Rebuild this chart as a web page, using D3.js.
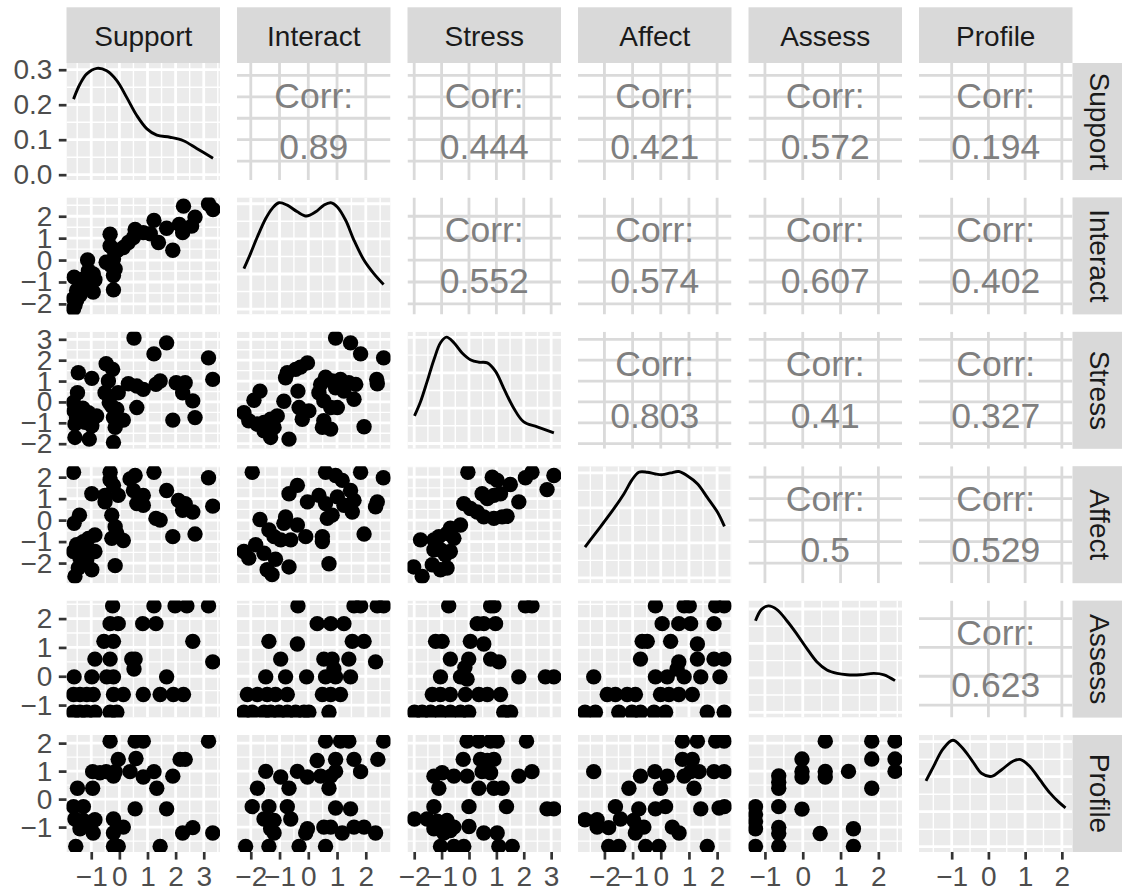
<!DOCTYPE html>
<html>
<head>
<meta charset="utf-8">
<script src="https://cdn.jsdelivr.net/npm/d3@7"></script>
<style>
  body { margin: 0; background: #fff; }
  svg { display: block; }
</style>
</head>
<body>
<svg id="chart" width="1122" height="894"></svg>
<script>
// ---- variables, ranges and tick values ----
const vars = ["Support", "Interact", "Stress", "Affect", "Assess", "Profile"];
const varMin = [-1.632, -2.237, -1.99, -2.69, -1.25, -1.70];
const varMax = [3.33, 2.617, 3.105, 2.263, 2.44, 2.10];
const varTicks = [
  [-1, 0, 1, 2, 3],
  [-2, -1, 0, 1, 2],
  [-2, -1, 0, 1, 2, 3],
  [-2, -1, 0, 1, 2],
  [-1, 0, 1, 2],
  [-1, 0, 1, 2]
];
const densityTicks = [0, 0.1, 0.2, 0.3];

// ---- correlations (upper triangle, by row) ----
const corrSupport = [0.89, 0.444, 0.421, 0.572, 0.194];
const corrInteract = [0.552, 0.574, 0.607, 0.402];
const corrStress = [0.803, 0.41, 0.327];
const corrAffect = [0.5, 0.529];
const corrAssess = [0.623];

// ---- kernel density curves (x, density) ----
const densSupport = [[-1.63,0.216],[-1.40,0.259],[-1.16,0.288],[-0.80,0.304],[-0.45,0.297],[-0.09,0.269],[0.26,0.221],[0.62,0.169],[0.98,0.131],[1.33,0.113],[1.80,0.107],[2.28,0.097],[2.75,0.075],[3.33,0.047]];
const densInteract = [[-2.24,0.115],[-2.01,0.158],[-1.77,0.206],[-1.48,0.258],[-1.25,0.287],[-1.02,0.303],[-0.73,0.296],[-0.38,0.277],[-0.06,0.265],[0.26,0.277],[0.54,0.296],[0.78,0.303],[1.01,0.291],[1.30,0.253],[1.59,0.196],[1.94,0.139],[2.28,0.101],[2.62,0.070]];
const densStress = [[-1.99,0.078],[-1.77,0.118],[-1.53,0.175],[-1.28,0.237],[-1.04,0.285],[-0.82,0.301],[-0.55,0.285],[-0.25,0.256],[0.05,0.237],[0.36,0.230],[0.67,0.228],[0.97,0.204],[1.27,0.156],[1.64,0.099],[2.00,0.061],[2.49,0.047],[3.10,0.030]];
const densAffect = [[-2.69,0.088],[-2.38,0.121],[-2.02,0.159],[-1.67,0.197],[-1.31,0.240],[-1.02,0.280],[-0.78,0.302],[-0.48,0.302],[-0.19,0.297],[0.05,0.295],[0.35,0.300],[0.64,0.304],[0.94,0.292],[1.30,0.269],[1.65,0.230],[2.01,0.188],[2.26,0.147]];
const densAssess = [[-1.25,0.266],[-1.09,0.299],[-0.91,0.309],[-0.69,0.299],[-0.42,0.266],[-0.16,0.228],[0.11,0.185],[0.37,0.147],[0.64,0.123],[0.91,0.113],[1.17,0.109],[1.53,0.109],[1.88,0.113],[2.15,0.109],[2.44,0.092]];
const densProfile = [[-1.70,0.188],[-1.50,0.228],[-1.23,0.280],[-0.97,0.304],[-0.73,0.285],[-0.45,0.247],[-0.18,0.209],[0.09,0.201],[0.36,0.220],[0.68,0.245],[0.88,0.249],[1.14,0.228],[1.41,0.190],[1.68,0.153],[1.91,0.128],[2.10,0.111]];

// ---- scatter points: [x, y] ----
const ptsSupport_Interact = [[3.17,2.56],[3.33,2.31],[2.28,2.46],[2.69,1.96],[2.57,1.55],[2.25,1.25],[2.13,1.63],[1.68,1.45],[1.23,1.81],[1.90,0.45],[1.39,0.80],[1.10,1.20],[0.85,1.25],[0.56,1.40],[0.50,1.03],[0.32,0.80],[0.14,0.57],[-0.09,0.42],[-0.33,1.18],[-0.33,0.65],[-0.21,0.48],[-0.21,0.05],[-0.47,-0.10],[-0.30,-0.25],[-0.15,-0.41],[-0.21,-0.71],[-0.21,-1.36],[-1.13,0],[-0.93,-0.63],[-1.10,-0.48],[-0.87,-0.90],[-1.28,-0.86],[-1.61,-0.78],[-1.40,-1.09],[-1.52,-1.39],[-0.93,-1.46],[-1.22,-1.31],[-1.16,-1.00],[-1.63,-1.76],[-1.58,-2.07],[-1.63,-2.22],[-1.52,-1.84],[-1.40,-1.60]];
const ptsSupport_Stress = [[0.52,3.06],[1.68,2.83],[1.23,2.30],[3.17,2.11],[-0.47,1.83],[-0.24,1.56],[-1.46,1.40],[-0.98,1.13],[-0.39,1.00],[1.45,1.00],[3.32,1.08],[1.30,0.84],[0.32,0.87],[0.62,0.76],[0.85,0.60],[2.02,0.92],[2.34,0.92],[2.25,0.44],[2.61,0.05],[-0.51,0.44],[-0.04,0.44],[-1.49,0.44],[-1.63,-0.03],[-0.36,-0.03],[0.62,-0.27],[-0.09,-0.35],[-1.61,-0.43],[-1.10,-0.51],[-0.81,-0.67],[-1.52,-0.75],[-0.21,-0.75],[0.14,-0.87],[-1.22,-0.98],[-0.15,-1.22],[2.69,-0.75],[1.90,-0.87],[-1.58,-1.70],[-1.07,-1.78],[-0.21,-1.94],[-1.58,-1.06],[-0.98,-1.14],[-0.27,-0.20],[-1.30,-0.30]];
const ptsSupport_Affect = [[-1.63,2.23],[-0.33,2.23],[-0.33,1.88],[-0.21,1.62],[0.38,1.92],[0.56,2.08],[1.23,2.23],[3.17,1.97],[1.68,1.38],[-0.98,1.23],[-0.51,1.15],[-0.04,1.15],[-0.51,0.85],[0.50,1.38],[0.85,1.15],[0.62,0.77],[0.85,0.69],[2.10,0.92],[2.34,0.77],[2.25,0.46],[2.61,0.38],[3.32,0.65],[1.30,0.08],[1.45,0.00],[-1.42,0.23],[-1.61,-0.15],[-0.27,0.23],[-0.15,-0.31],[-0.09,-0.62],[-0.27,-0.85],[0.14,-0.95],[1.90,-0.77],[2.69,-0.65],[-0.87,-0.69],[-1.10,-0.85],[-1.28,-1.00],[-1.52,-1.15],[-1.16,-1.38],[-1.63,-1.46],[-0.87,-1.46],[-1.40,-1.77],[-1.16,-1.85],[-0.98,-2.31],[-1.46,-2.23],[-1.58,-2.62],[-0.15,-2.12]];
const ptsSupport_Assess = [[-0.24,2.44],[1.23,2.44],[1.98,2.44],[2.40,2.44],[3.17,2.44],[-0.33,1.825],[-0.04,1.825],[0.83,1.825],[1.30,1.825],[-0.55,1.21],[-0.21,1.21],[2.61,1.21],[-0.87,0.595],[-0.33,0.595],[0.44,0.595],[0.56,0.595],[3.32,0.50],[-1.61,-0.02],[-0.98,-0.02],[-0.45,-0.02],[-0.21,-0.02],[0.52,0.25],[1.68,-0.02],[-1.63,-0.635],[-1.40,-0.635],[-1.16,-0.635],[-0.93,-0.635],[-0.21,-0.635],[0.14,-0.635],[0.85,-0.635],[1.45,-0.635],[1.92,-0.635],[2.28,-0.635],[-1.63,-1.25],[-1.40,-1.25],[-1.16,-1.25],[-0.87,-1.25],[-0.33,-1.25],[-0.09,-1.25]];
const ptsSupport_Profile = [[-0.33,2.07],[0.56,2.07],[0.85,2.07],[3.17,2.07],[-0.04,1.42],[0.59,1.45],[2.16,1.42],[2.34,1.42],[-0.95,0.98],[-0.69,0.94],[-0.47,0.98],[-0.21,0.82],[-0.15,0.98],[0.38,0.98],[0.85,0.79],[1.23,0.98],[1.90,0.82],[-1.49,0.39],[-0.95,0.39],[1.33,0.39],[-1.63,-0.27],[-1.28,-0.27],[0.56,-0.35],[1.68,-0.35],[-1.58,-0.71],[-1.28,-0.76],[-0.87,-0.74],[-0.21,-0.71],[-1.40,-1.06],[-1.10,-0.94],[-0.93,-1.21],[0.14,-1.00],[-0.21,-1.21],[2.25,-1.21],[2.61,-1.02],[3.32,-1.21],[-1.55,-1.69],[-0.21,-1.69],[-0.04,-1.69],[1.45,-1.69]];
const ptsInteract_Stress = [[0.95,3.06],[1.47,2.83],[1.82,2.30],[2.62,2.11],[-0.03,1.87],[-0.27,1.67],[-0.44,1.56],[-0.73,1.40],[-0.79,1.16],[2.38,1.08],[2.40,0.87],[0.60,1.19],[0.83,1.00],[1.12,1.08],[1.41,0.92],[1.65,0.84],[0.43,0.84],[0.95,0.68],[1.24,0.52],[1.59,0.13],[-1.68,0.52],[-1.89,0.08],[-0.36,0.52],[0.37,0.44],[0.54,0.05],[-0.85,0.03],[-2.24,-0.51],[-2.07,-0.90],[-1.78,-1.06],[-1.54,-0.98],[-1.31,-0.83],[-1.08,-0.67],[-0.32,-0.27],[0.02,-0.43],[-0.21,-0.83],[0.78,-0.27],[1.01,-0.27],[0.54,-0.90],[0.49,-1.22],[0.78,-1.30],[1.94,-1.19],[-1.54,-1.38],[-1.31,-1.70],[-0.67,-1.78],[-1.19,-1.22]];
const ptsInteract_Affect = [[-1.95,2.23],[0.60,2.23],[0.95,2.08],[1.18,1.85],[1.82,2.23],[2.61,1.97],[-0.38,1.62],[-0.67,1.23],[-0.03,0.85],[0.37,1.15],[0.60,0.77],[1.01,1.08],[1.24,0.69],[1.47,1.38],[1.59,0.92],[1.53,0.38],[0.66,0.08],[0.83,0.23],[2.40,0.85],[2.34,0.62],[-1.68,0.03],[-0.79,0.15],[-0.85,-0.15],[-0.38,-0.23],[-1.37,-0.46],[-1.19,-0.77],[-0.96,-0.92],[-0.61,-0.92],[-0.09,-0.77],[0.49,-0.77],[0.49,-1.00],[1.94,-0.65],[-1.83,-1.15],[-1.54,-1.54],[-2.24,-1.46],[-2.07,-1.77],[-1.14,-1.82],[-1.43,-2.31],[-1.26,-2.54],[-0.67,-2.18],[0.72,-2.03]];
const ptsStress_Affect = [[-0.04,2.23],[0.85,2.00],[1.03,1.85],[1.51,1.66],[2.06,1.97],[2.30,2.23],[3.10,2.08],[2.85,1.42],[1.82,0.85],[0.48,1.23],[0.67,1.00],[0.91,1.15],[1.15,1.23],[-0.19,0.77],[0.05,0.54],[0.30,0.38],[0.54,0.15],[0.91,0.08],[1.21,0.15],[1.39,0.18],[-0.31,-0.23],[-0.68,-0.38],[-0.80,-0.62],[-1.10,-0.77],[-1.77,-0.92],[-1.28,-0.92],[-0.55,-0.85],[-1.28,-1.38],[-1.04,-1.38],[-0.68,-1.46],[-0.86,-1.62],[-1.34,-2.08],[-1.04,-2.31],[-0.80,-2.23],[-2.02,-2.18],[-1.71,-2.62]];
const ptsInteract_Assess = [[-0.36,2.44],[1.59,2.44],[1.82,2.44],[2.40,2.44],[2.62,2.44],[0.31,1.825],[0.78,1.825],[1.24,1.825],[-1.37,1.21],[-0.38,1.12],[1.53,1.21],[1.94,1.21],[-0.96,0.595],[0.54,0.595],[0.83,0.595],[1.41,0.595],[2.34,0.50],[0.89,0.25],[-1.48,-0.02],[-0.79,-0.02],[-0.06,-0.02],[0.60,-0.02],[0.95,-0.02],[1.47,-0.02],[-2.12,-0.635],[-1.77,-0.635],[-1.43,-0.635],[-1.14,-0.635],[-0.73,-0.635],[0.49,-0.635],[0.78,-0.635],[1.12,-0.635],[-2.24,-1.25],[-1.95,-1.25],[-1.54,-1.25],[-1.31,-1.25],[-1.02,-1.25],[-0.73,-1.25],[-0.44,-1.25],[-0.15,-1.25],[0.02,-1.25],[0.72,-1.25]];
const ptsStress_Assess = [[-0.74,2.44],[0.79,2.44],[0.91,2.44],[2.06,2.44],[2.30,2.44],[0.30,1.825],[0.54,1.825],[0.97,1.825],[-1.22,1.21],[-0.98,1.21],[0.05,1.21],[0.54,1.12],[-0.68,0.595],[-0.01,0.595],[0.79,0.595],[1.09,0.50],[-0.15,0.30],[-1.04,-0.02],[-0.31,-0.02],[-0.07,-0.10],[1.82,-0.02],[2.79,-0.02],[3.10,-0.02],[-1.34,-0.635],[-1.04,-0.635],[-0.68,-0.635],[-0.13,-0.635],[0.36,-0.635],[0.67,-0.635],[1.15,-0.635],[-1.99,-1.25],[-1.71,-1.25],[-1.40,-1.25],[-1.04,-1.25],[-0.68,-1.25],[-0.31,-1.25],[-0.01,-1.25],[1.27,-1.25],[1.52,-1.25]];
const ptsAffect_Assess = [[-0.19,2.44],[0.83,2.44],[1.01,2.44],[1.95,2.44],[2.25,2.44],[0.05,1.825],[0.64,1.825],[1.06,1.825],[1.89,1.825],[-0.66,1.21],[-0.48,1.21],[0.35,1.21],[1.30,1.12],[-0.72,0.595],[0.64,0.50],[1.30,0.595],[1.89,0.595],[2.25,0.595],[0.58,0.25],[-2.38,-0.02],[-0.19,-0.02],[0.23,-0.02],[0.83,-0.02],[1.42,-0.02],[2.10,-0.02],[-1.90,-0.635],[-1.61,-0.635],[-1.19,-0.635],[-0.90,-0.635],[-0.01,-0.635],[0.29,-0.635],[0.64,-0.635],[1.12,-0.635],[-2.69,-1.25],[-2.32,-1.25],[-1.49,-1.25],[-1.02,-1.25],[-0.72,-1.25],[-0.24,-1.25],[0.17,-1.25],[1.65,-1.25],[2.25,-1.25]];
const ptsInteract_Profile = [[0.60,2.07],[1.12,2.07],[1.41,2.07],[2.62,2.07],[0.31,1.38],[0.95,1.42],[1.59,1.42],[2.42,1.42],[-1.48,0.99],[-0.96,0.79],[-0.38,0.99],[-0.03,0.79],[0.43,0.82],[0.78,0.82],[0.95,0.99],[1.82,0.98],[-1.77,0.39],[-0.67,0.39],[0.72,0.39],[-1.95,-0.27],[-1.37,-0.27],[-0.73,-0.27],[0.95,-0.32],[1.47,-0.35],[-1.54,-0.71],[-1.19,-0.76],[-0.61,-0.71],[-0.03,-1.06],[0.54,-1.00],[0.78,-1.00],[1.18,-1.21],[1.59,-1.00],[1.94,-1.00],[2.34,-1.21],[-1.31,-1.06],[-1.19,-1.21],[-0.09,-1.21],[-2.18,-1.69],[-1.37,-1.69],[-0.32,-1.69],[0.60,-1.69]];
const ptsStress_Profile = [[-0.07,2.07],[0.36,2.07],[0.79,2.07],[1.03,2.07],[2.10,2.07],[-0.21,1.42],[0.42,1.42],[0.67,1.38],[0.91,1.42],[-1.28,0.82],[-0.98,0.94],[-0.55,0.82],[-0.07,0.82],[0.48,0.98],[0.79,0.94],[1.82,0.82],[2.30,0.98],[-1.10,0.39],[0.36,0.39],[0.91,0.39],[1.21,0.39],[-1.28,-0.27],[0.00,-0.27],[1.37,-0.27],[2.85,-0.35],[3.10,-0.35],[-1.99,-0.71],[-1.53,-0.71],[-1.16,-0.79],[-0.80,-0.76],[-0.55,-1.00],[0.00,-0.98],[0.54,-1.21],[1.03,-1.21],[-1.28,-1.06],[-0.92,-1.21],[-0.68,-1.12],[-1.04,-1.69],[-0.55,-1.69],[-0.19,-1.69],[1.09,-1.69],[1.58,-1.69]];
const ptsAffect_Profile = [[0.77,2.07],[1.30,2.07],[1.95,2.07],[2.25,2.07],[0.77,1.42],[1.12,1.42],[-2.38,0.98],[-0.72,0.82],[-0.21,0.98],[0.23,0.82],[0.83,0.82],[1.06,0.98],[1.36,0.98],[1.89,0.98],[2.25,0.98],[-1.13,0.39],[-0.01,0.39],[1.18,0.39],[-1.61,-0.27],[-0.78,-0.35],[-0.19,-0.35],[0.17,-0.27],[1.42,-0.35],[2.07,-0.32],[2.26,-0.27],[-2.69,-0.74],[-2.26,-0.74],[-2.26,-1.00],[-1.85,-1.02],[-1.43,-0.71],[-0.96,-0.76],[-0.84,-1.00],[-0.60,-1.00],[-0.90,-1.21],[0.41,-1.00],[0.65,-1.21],[-1.85,-1.69],[-1.49,-1.69],[-0.54,-1.69],[-0.07,-1.69],[1.65,-1.69]];
const ptsAssess_Profile = [[-1.25,-0.27],[-1.25,-0.55],[-1.25,-0.80],[-1.25,-1.06],[-1.25,-1.69],[-0.635,0.83],[-0.635,0.60],[-0.635,0.39],[-0.635,-0.27],[-0.635,-1.01],[-0.635,-1.23],[-0.635,-1.69],[-0.02,1.43],[-0.02,0.99],[-0.02,0.79],[-0.02,-0.36],[0.595,2.07],[0.595,0.99],[0.595,0.79],[0.46,-1.23],[1.21,0.99],[1.34,-1.06],[1.34,-1.69],[1.825,2.07],[1.825,1.43],[1.825,0.39],[2.44,2.07],[2.44,1.43],[2.44,0.99]];

// ---- assemble lookup tables from the arrays above ----
const densities = [densSupport, densInteract, densStress, densAffect, densAssess, densProfile];
const corrRows = [corrSupport, corrInteract, corrStress, corrAffect, corrAssess];
const scatter = {
  "1-0": ptsSupport_Interact, "2-0": ptsSupport_Stress, "3-0": ptsSupport_Affect,
  "4-0": ptsSupport_Assess, "5-0": ptsSupport_Profile,
  "2-1": ptsInteract_Stress, "3-1": ptsInteract_Affect, "4-1": ptsInteract_Assess, "5-1": ptsInteract_Profile,
  "3-2": ptsStress_Affect, "4-2": ptsStress_Assess, "5-2": ptsStress_Profile,
  "4-3": ptsAffect_Assess, "5-3": ptsAffect_Profile,
  "5-4": ptsAssess_Profile
};

// ---- layout ----
const PL = 66.5, PW = 153.5, PSX = 170.5;
const PT = 63, PH = 117, PSY = 134.4;
const colX = j => PL + j * PSX;
const rowY = i => PT + i * PSY;
const FONT = '"Liberation Sans", Arial, Helvetica, sans-serif';
const AXIS_FS = 28, STRIP_FS = 28, CORR_FS = 35.5;

const svg = d3.select("#chart");

// panel scales: data range padded by 5% on each side
const xs = vars.map((v, k) => {
  const e = (varMax[k] - varMin[k]) * 0.05;
  return d3.scaleLinear().domain([varMin[k] - e, varMax[k] + e]).range([0, PW]);
});
const ys = vars.map((v, k) => {
  const e = (varMax[k] - varMin[k]) * 0.05;
  return d3.scaleLinear().domain([varMin[k] - e, varMax[k] + e]).range([PH, 0]);
});
const densY = densities.map(d => {
  const m = d3.max(d, p => p[1]);
  return d3.scaleLinear().domain([-0.05 * m, 1.05 * m]).range([PH, 0]);
});

function minorBreaks(majors, dom) {
  const step = majors[1] - majors[0];
  const out = [];
  for (let k = -1; k < majors.length; k++) {
    const m = k < 0 ? majors[0] - step / 2 : majors[k] + step / 2;
    if (m >= dom[0] && m <= dom[1]) out.push(m);
  }
  return out;
}

function drawGrid(g, x, y, xMaj, yMaj, color, withMinor) {
  const xd = x.domain(), yd = y.domain();
  if (withMinor) {
    minorBreaks(xMaj, xd).forEach(v => g.append("line")
      .attr("x1", x(v)).attr("x2", x(v)).attr("y1", 0).attr("y2", PH)
      .attr("stroke", color).attr("stroke-width", 1.4));
    minorBreaks(yMaj, yd).forEach(v => g.append("line")
      .attr("y1", y(v)).attr("y2", y(v)).attr("x1", 0).attr("x2", PW)
      .attr("stroke", color).attr("stroke-width", 1.4));
  }
  xMaj.filter(v => v >= xd[0] && v <= xd[1]).forEach(v => g.append("line")
    .attr("x1", x(v)).attr("x2", x(v)).attr("y1", 0).attr("y2", PH)
    .attr("stroke", color).attr("stroke-width", 2.8));
  yMaj.filter(v => v >= yd[0] && v <= yd[1]).forEach(v => g.append("line")
    .attr("y1", y(v)).attr("y2", y(v)).attr("x1", 0).attr("x2", PW)
    .attr("stroke", color).attr("stroke-width", 2.8));
}

vars.forEach((rv, i) => {
  vars.forEach((cv, j) => {
    const g = svg.append("g").attr("transform", `translate(${colX(j)},${rowY(i)})`);
    const cid = `clip-${i}-${j}`;
    g.append("clipPath").attr("id", cid).append("rect").attr("width", PW).attr("height", PH);
    const body = g.append("g").attr("clip-path", `url(#${cid})`);
    const x = xs[j];

    if (i < j) {
      // correlation panel
      body.append("rect").attr("width", PW).attr("height", PH).attr("fill", "#ffffff");
      drawGrid(body, x, ys[i], varTicks[j], varTicks[i], "#dadada", false);
      const r = corrRows[i][j - i - 1];
      const t = g.append("text").attr("text-anchor", "middle")
        .attr("font-family", FONT).attr("font-size", CORR_FS).attr("fill", "#7f7f7f");
      t.append("tspan").attr("x", PW / 2).attr("y", PH / 2 - 14).text("Corr:");
      t.append("tspan").attr("x", PW / 2).attr("y", PH / 2 + 37.6).text(String(r));
    } else if (i === j) {
      // density on the diagonal
      const y = densY[i];
      body.append("rect").attr("width", PW).attr("height", PH).attr("fill", "#ebebeb");
      drawGrid(body, x, y, varTicks[j], densityTicks, "#ffffff", true);
      body.append("path").datum(densities[i])
        .attr("fill", "none").attr("stroke", "#000").attr("stroke-width", 2.9)
        .attr("d", d3.line().x(p => x(p[0])).y(p => y(p[1])).curve(d3.curveCatmullRom));
    } else {
      // scatter panel
      const y = ys[i];
      body.append("rect").attr("width", PW).attr("height", PH).attr("fill", "#ebebeb");
      drawGrid(body, x, y, varTicks[j], varTicks[i], "#ffffff", true);
      body.selectAll("circle").data(scatter[`${i}-${j}`]).join("circle")
        .attr("cx", p => x(p[0])).attr("cy", p => y(p[1])).attr("r", 7.7).attr("fill", "#000");
    }
  });
});

// ---- strips ----
vars.forEach((v, j) => {
  svg.append("rect").attr("x", colX(j)).attr("y", 7.3).attr("width", PW).attr("height", PT - 7.3)
    .attr("fill", "#d9d9d9");
  svg.append("text").attr("x", colX(j) + PW / 2).attr("y", 46)
    .attr("text-anchor", "middle").attr("font-family", FONT).attr("font-size", STRIP_FS)
    .attr("fill", "#1a1a1a").text(v);
});
vars.forEach((v, i) => {
  const sx = colX(5) + PW;
  svg.append("rect").attr("x", sx).attr("y", rowY(i)).attr("width", 55.7).attr("height", PH)
    .attr("fill", "#d9d9d9");
  svg.append("text").attr("transform", `translate(${sx + 27.8},${rowY(i) + PH / 2}) rotate(90)`)
    .attr("x", 0).attr("y", 10.5)
    .attr("text-anchor", "middle").attr("font-family", FONT).attr("font-size", STRIP_FS)
    .attr("fill", "#1a1a1a").text(v);
});

// ---- axes ----
function styleAxis(a) {
  a.select(".domain").remove();
  a.selectAll(".tick line").attr("stroke", "#333333").attr("stroke-width", 2.7);
  a.selectAll(".tick text").attr("fill", "#4d4d4d").attr("font-size", AXIS_FS).attr("font-family", FONT);
}
vars.forEach((v, i) => {
  const a = svg.append("g").attr("transform", `translate(${PL},${rowY(i)})`);
  if (i === 0) {
    a.call(d3.axisLeft(densY[0]).tickValues(densityTicks).tickFormat(d3.format(".1f")).tickSize(7.7).tickPadding(6.5));
  } else {
    a.call(d3.axisLeft(ys[i]).tickValues(varTicks[i]).tickFormat(d3.format("d")).tickSize(7.7).tickPadding(6.5));
  }
  styleAxis(a);
});
vars.forEach((v, j) => {
  const a = svg.append("g").attr("transform", `translate(${colX(j)},${rowY(5) + PH})`);
  a.call(d3.axisBottom(xs[j]).tickValues(varTicks[j]).tickFormat(d3.format("d")).tickSize(7.6).tickPadding(7));
  styleAxis(a);
});
</script>
</body>
</html>
